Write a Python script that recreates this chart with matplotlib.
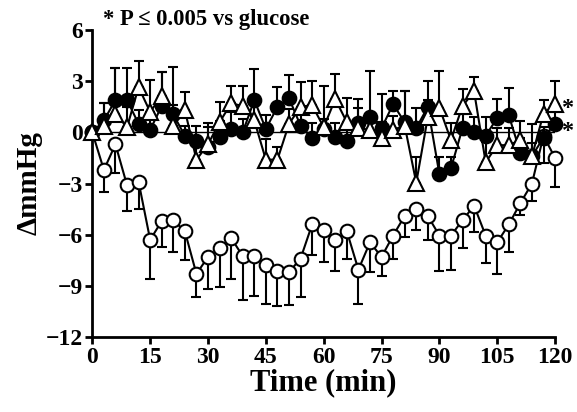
import numpy as np
import matplotlib
matplotlib.use('Agg')
import matplotlib.pyplot as plt

time = list(range(0, 121, 3))

# open circles (mean, SEM drawn downward)
open_mean = [0, -2.2, -0.7, -3.1, -2.9, -6.3, -5.2, -5.15, -5.8, -8.3,
             -7.3, -6.8, -6.2, -7.25, -7.25, -7.8, -8.1, -8.2, -7.4, -5.4,
             -5.7, -6.3, -5.8, -8.05, -6.45, -7.3, -6.05, -4.9, -4.5, -4.9,
             -6.05, -6.05, -5.15, -4.3, -6.05, -6.45, -5.4, -4.15, -3.0, -0.2,
             -1.5]
open_err = [0, 1.3, 1.7, 1.5, 1.6, 2.3, 1.5, 1.85, 1.7, 1.35,
            1.9, 2.25, 2.4, 2.55, 2.35, 2.25, 2.1, 1.9, 2.25, 1.8,
            1.9, 1.85, 1.6, 2.0, 1.75, 1.15, 1.4, 1.25, 1.2, 1.4,
            2.05, 2.0, 1.65, 1.55, 1.6, 1.85, 1.6, 0.7, 1.0, 1.6,
            1.7]

# filled circles (mean, SEM drawn upward)
fill_mean = [0, 0.7, 1.9, 1.9, 0.5, 0.15, 1.55, 1.05, -0.2, -0.5,
             -0.85, -0.25, 0.2, 0.0, 1.9, 0.2, 1.5, 2.0, 0.4, -0.35,
             0.2, -0.25, -0.5, 0.55, 0.9, 0.25, 1.65, 0.6, 0.25, 1.5,
             -2.45, -2.1, 0.25, 0.0, -0.2, 0.85, 1.0, -1.2, -1.4, -0.3,
             0.5]
fill_err = [0, 1.0, 1.9, 1.9, 0.8, 0.9, 2.0, 2.8, 0.6, 0.85,
            1.4, 0.9, 1.0, 0.8, 1.8, 0.8, 1.15, 1.35, 1.0, 0.9,
            0.6, 0.8, 0.9, 0.9, 2.7, 2.0, 0.8, 1.8, 1.2, 1.5,
            1.0, 0.65, 0.8, 0.9, 1.1, 1.1, 1.6, 0.9, 0.8, 0.6,
            0.7]

# open triangles (mean, SEM drawn upward)
tri_mean = [0, 0.4, 1.1, 0.3, 2.65, 1.2, 2.15, 0.4, 1.3, -1.6,
            -0.7, 0.6, 1.7, 1.55, 0.7, -1.6, -1.6, 0.5, 1.5, 1.6,
            0.3, 1.95, 0.6, 0.25, 0.15, -0.3, 0.15, 0.4, -2.95, 0.9,
            1.45, -0.45, 1.55, 2.4, -1.75, -0.75, -0.75, -0.45, -1.4, 1.1,
            1.65]
tri_err = [0, 1.3, 2.7, 1.2, 1.55, 1.9, 1.4, 1.2, 1.05, 1.1,
           1.0, 1.2, 1.0, 1.15, 1.0, 1.2, 0.75, 0.9, 1.45, 1.4,
           2.4, 1.5, 1.4, 1.7, 0.8, 0.9, 0.8, 2.0, 1.5, 1.0,
           2.15, 1.0, 1.0, 0.85, 1.2, 1.0, 1.0, 1.1, 1.9, 0.8,
           1.35]

serif = ['Liberation Serif', 'DejaVu Serif']
plt.rcParams['font.family'] = serif
plt.rcParams['font.weight'] = 'bold'

fig = plt.figure(figsize=(5.77, 4.12), dpi=100)
ax = fig.add_axes([0.160, 0.182, 0.802, 0.745])

ax.axhline(0, color='black', lw=1.0, zorder=1)

zero = np.zeros(len(time))
common = dict(color='black', lw=1.5, elinewidth=1.5, capsize=3.5,
              capthick=1.5, markersize=9.8, markeredgewidth=1.5,
              markeredgecolor='black', clip_on=False)

ax.errorbar(time, open_mean, yerr=[open_err, zero], fmt='-o',
            markerfacecolor='white', zorder=2, **common)
ax.errorbar(time, fill_mean, yerr=[zero, fill_err], fmt='-o',
            markerfacecolor='black', zorder=3, **common)
ax.errorbar(time, tri_mean, yerr=[zero, tri_err], fmt='-^',
            markerfacecolor='white', zorder=4,
            **{**common, 'markersize': 11.5})

ax.set_xlim(0, 120)
ax.set_ylim(-12, 6)
ax.set_xticks(range(0, 121, 15))
ax.set_yticks(range(-12, 7, 3))
ax.tick_params(direction='out', length=5, width=2, labelsize=17, pad=2)
for lab in ax.get_xticklabels() + ax.get_yticklabels():
    lab.set_fontweight('bold')
for s in ['top', 'right']:
    ax.spines[s].set_visible(False)
for s in ['left', 'bottom']:
    ax.spines[s].set_linewidth(2)

ax.set_xlabel('Time (min)', fontsize=22, fontweight='bold', labelpad=0)
ax.set_ylabel('ΔmmHg', fontsize=21, fontweight='bold', labelpad=2)

fig.text(0.178, 0.952, '* P ≤ 0.005 vs glucose', fontsize=16.3,
         fontweight='bold', va='center', ha='left')
ax.text(121.9, tri_mean[-1] - 0.22, '*', fontsize=17.5, fontweight='bold',
        va='center', ha='left')
ax.text(121.9, fill_mean[-1] - 0.42, '*', fontsize=17.5, fontweight='bold',
        va='center', ha='left')

fig.savefig('out.png', dpi=100)
